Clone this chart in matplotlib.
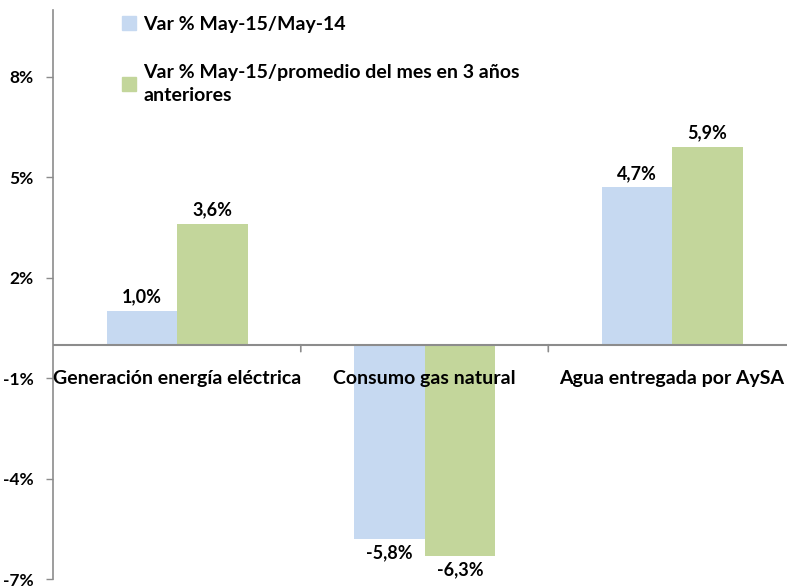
import matplotlib
matplotlib.use('Agg')
import matplotlib.pyplot as plt
from matplotlib.patches import Patch

categorias = ['Generación energía eléctrica', 'Consumo gas natural', 'Agua entregada por AySA']
var_anual = [1.0, -5.8, 4.7]
var_promedio = [3.6, -6.3, 5.9]
serie_1 = 'Var % May-15/May-14'
serie_2 = 'Var % May-15/promedio del mes en 3 años\nanteriores'
yticks = [-7, -4, -1, 2, 5, 8]

azul = '#C6D9F1'
verde = '#C3D69B'
gris = '#8C8C8C'

plt.rcParams['font.family'] = ['Lato', 'DejaVu Sans']
plt.rcParams['font.weight'] = 'bold'

fig = plt.figure(figsize=(7.87, 5.86), dpi=100)
ax = fig.add_axes([53.3 / 787, 7 / 586, 742.5 / 787, 569 / 586])

ancho = 0.285
x = list(range(len(categorias)))
b1 = ax.bar([i - ancho / 2 for i in x], var_anual, ancho, color=azul)
b2 = ax.bar([i + ancho / 2 for i in x], var_promedio, ancho, color=verde)

for barras in (b1, b2):
    for r in barras:
        v = r.get_height()
        txt = ('%.1f%%' % v).replace('.', ',')
        if v >= 0:
            ax.annotate(txt, (r.get_x() + r.get_width() / 2, v), xytext=(0, 4),
                        textcoords='offset points', ha='center', va='bottom', fontsize=13)
        else:
            ax.annotate(txt, (r.get_x() + r.get_width() / 2, v), xytext=(0, -4),
                        textcoords='offset points', ha='center', va='top', fontsize=13)

ax.set_xlim(-0.5, len(categorias) - 0.5)
ax.set_ylim(-7, 10)
ax.axhline(0, color=gris, lw=1.5, zorder=3)
for i in x:
    ax.annotate(categorias[i], (i, 0), xytext=(0, -24), textcoords='offset points',
                ha='center', va='center', fontsize=14)
    ax.annotate('', (i + 0.5, 0), xytext=(0, -5), textcoords='offset points',
                arrowprops=dict(arrowstyle='-', color=gris, lw=1.2, shrinkA=0, shrinkB=0))

ax.set_yticks(yticks)
ax.set_yticklabels(['%d%%' % t for t in yticks], fontsize=12.5)
ax.set_xticks([])
ax.tick_params(axis='y', length=5, width=1, color=gris, pad=9)
for s in ['top', 'right', 'bottom']:
    ax.spines[s].set_visible(False)
ax.spines['left'].set_color(gris)
ax.spines['left'].set_linewidth(1.2)

handles = [Patch(color=azul), Patch(color=verde)]
leg = fig.legend(handles, [serie_1, serie_2], loc='upper left', bbox_to_anchor=(114 / 787, 1 - 8 / 586),
                 frameon=False, fontsize=14, handlelength=0.75, handleheight=0.75, handletextpad=0.35,
                 labelspacing=1.6, borderaxespad=0)
for t in leg.get_texts():
    t.set_linespacing(1.45)

fig.savefig('out.png', dpi=100)
